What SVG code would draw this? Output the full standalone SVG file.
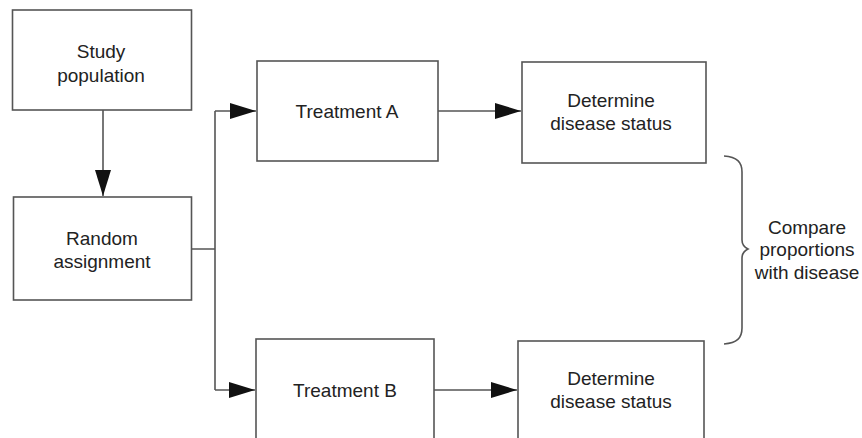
<svg xmlns="http://www.w3.org/2000/svg" width="862" height="438" viewBox="0 0 862 438">
<style>
.box{fill:#fff;stroke:#555;stroke-width:1.6}
.lbl{font-family:"Liberation Sans",Arial,sans-serif;font-size:19px;fill:#222;text-anchor:middle}
.conn{fill:none;stroke:#555;stroke-width:1.6}
</style>
<defs>
<marker id="arr" viewBox="0 0 26 16" refX="26" refY="8" markerWidth="26" markerHeight="16" markerUnits="userSpaceOnUse" orient="auto">
<path d="M0,0 L26,8 L0,16 Z" fill="#111"/>
</marker>
</defs>
<rect width="862" height="438" fill="#fff"/>
<g id="connectors">
<path class="conn" d="M103,110 V196" marker-end="url(#arr)"/>
<path class="conn" d="M191.5,249 H215 M215,111 V390"/>
<path class="conn" d="M215,111 H256" marker-end="url(#arr)"/>
<path class="conn" d="M215,390 H255" marker-end="url(#arr)"/>
<path class="conn" d="M438,111 H521" marker-end="url(#arr)"/>
<path class="conn" d="M434,390 H517" marker-end="url(#arr)"/>
<path class="conn" d="M724,156 C737,157 742,162 742,172 V240 C742,245 744,247 748,249 C744,251 742,253 742,258 V328 C742,338 737,343 724,344"/>
</g>
<g id="study">
<rect class="box" x="12.5" y="10" width="179" height="100"/>
<text class="lbl" x="101" y="58">Study</text>
<text class="lbl" x="101" y="82">population</text>
</g>
<g id="random">
<rect class="box" x="13.5" y="197" width="178" height="103"/>
<text class="lbl" x="102" y="245">Random</text>
<text class="lbl" x="102" y="268">assignment</text>
</g>
<g id="treatA">
<rect class="box" x="257" y="61" width="181" height="100"/>
<text class="lbl" x="347" y="118">Treatment A</text>
</g>
<g id="treatB">
<rect class="box" x="256" y="339" width="178" height="110"/>
<text class="lbl" x="345" y="397">Treatment B</text>
</g>
<g id="detA">
<rect class="box" x="522" y="62" width="184" height="101"/>
<text class="lbl" x="611" y="107">Determine</text>
<text class="lbl" x="611" y="130">disease status</text>
</g>
<g id="detB">
<rect class="box" x="518" y="341" width="186" height="110"/>
<text class="lbl" x="611" y="385">Determine</text>
<text class="lbl" x="611" y="408">disease status</text>
</g>
<g id="compare">
<text class="lbl" x="807" y="234">Compare</text>
<text class="lbl" x="807" y="256">proportions</text>
<text class="lbl" x="807" y="279">with disease</text>
</g>
</svg>
